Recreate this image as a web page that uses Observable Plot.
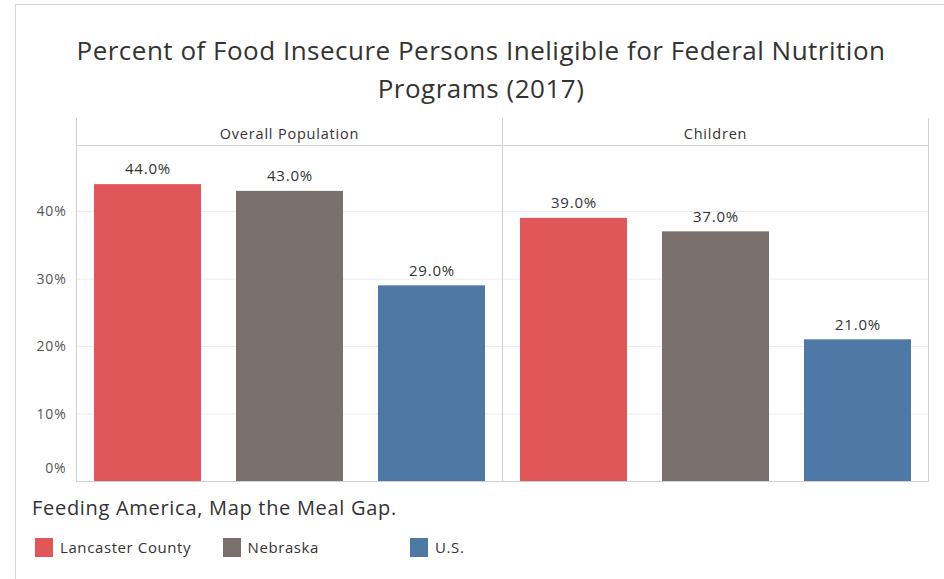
<!DOCTYPE html>
<html>
<head>
<meta charset="utf-8">
<script src="https://cdn.jsdelivr.net/npm/d3@7"></script>
<script src="https://cdn.jsdelivr.net/npm/@observablehq/plot@0.6"></script>
<style>
  body { margin: 0; background: #fff; }
  #wrap { position: relative; width: 944px; height: 579px; overflow: hidden; background: #fff; font-family: "Open Sans", sans-serif; color: #333; }
  #border { position: absolute; left: 15px; top: 4px; width: 940px; height: 620px; border: 1px solid #d9d9d9; }
  #title { position: absolute; left: 15px; top: 31px; width: 932px; text-align: center; font-family: "Open Sans", sans-serif; font-size: 26px; letter-spacing: 0.5px; line-height: 38px; color: #333; }
  #chart { position: absolute; left: 0; top: 110px; }
  #chart svg text { letter-spacing: 0.8px; }
  #caption { position: absolute; left: 32px; top: 494px; font-size: 20px; letter-spacing: 0.7px; color: #333; }
  .sw { position: absolute; width: 18px; height: 19px; }
  .lb { position: absolute; font-size: 15px; letter-spacing: 0.6px; color: #333; line-height: 19px; }
</style>
</head>
<body>
<div id="wrap">
  <div id="border"></div>
  <div id="title">Percent of Food Insecure Persons Ineligible for Federal Nutrition<br>Programs (2017)</div>
  <div id="chart"></div>
  <div id="caption">Feeding America, Map the Meal Gap.</div>
  <div id="legend"></div>
</div>
<script>
const groups = ["Overall Population", "Children"];
const regions = ["Lancaster County", "Nebraska", "U.S."];
const overallValues = [44.0, 43.0, 29.0];
const childrenValues = [39.0, 37.0, 21.0];
const colors = ["#e15759", "#79706e", "#4e79a7"];
const yTicks = [0, 10, 20, 30, 40];

const seriesByGroup = [overallValues, childrenValues];
const data = groups.flatMap((g, gi) =>
  regions.map((r, i) => ({ group: g, region: r, value: seriesByGroup[gi][i] }))
);

const fmtPct = d => d + "%";
const lineColor = "#d0d0d0";

const chart = Plot.plot({
  width: 944,
  height: 376,
  marginLeft: 76,
  marginRight: 16,
  marginTop: 35,
  marginBottom: 5,
  style: { fontFamily: "Open Sans, sans-serif", background: "transparent" },
  fx: { domain: groups, padding: 0, label: null, axis: null },
  x: { domain: regions, paddingInner: 0.25, paddingOuter: 0.125, axis: null, label: null },
  y: { domain: [0, 49.8], axis: null },
  color: { domain: regions, range: colors },
  marks: [
    Plot.gridY(yTicks.filter(t => t > 0), { stroke: "#ececec", strokeOpacity: 1 }),
    Plot.barY(data, { fx: "group", x: "region", y: "value", fill: "region" }),
    Plot.text(data, { fx: "group", x: "region", y: "value", text: d => d.value.toFixed(1) + "%", dy: -15, fontSize: 15, fill: "#333" }),
    Plot.axisFx({ anchor: "top", tickSize: 0, tickPadding: 7, fontSize: 14.5, label: null, fill: "#333" }),
    Plot.axisY(yTicks.filter(t => t > 0), { tickSize: 0, tickPadding: 10, tickFormat: fmtPct, fontSize: 14, label: null, fill: "#555" }),
    Plot.axisY(yTicks.filter(t => t === 0), { tickSize: 0, tickPadding: 10, tickFormat: fmtPct, fontSize: 14, label: null, fill: "#555", dy: -13 }),
    Plot.frame({ anchor: "left", insetTop: -27, stroke: lineColor }),
    Plot.frame({ anchor: "right", insetTop: -27, stroke: lineColor }),
    Plot.frame({ anchor: "top", stroke: lineColor }),
    Plot.frame({ anchor: "bottom", stroke: lineColor })
  ]
});
document.getElementById("chart").appendChild(chart);

const legend = document.getElementById("legend");
regions.forEach((r, i) => {
  const left = 35 + i * 187.5;
  const sw = document.createElement("div");
  sw.className = "sw";
  sw.style.left = left + "px";
  sw.style.top = "538px";
  sw.style.background = colors[i];
  legend.appendChild(sw);
  const lb = document.createElement("div");
  lb.className = "lb";
  lb.style.left = (left + 25) + "px";
  lb.style.top = "538px";
  lb.textContent = r;
  legend.appendChild(lb);
});
</script>
</body>
</html>
